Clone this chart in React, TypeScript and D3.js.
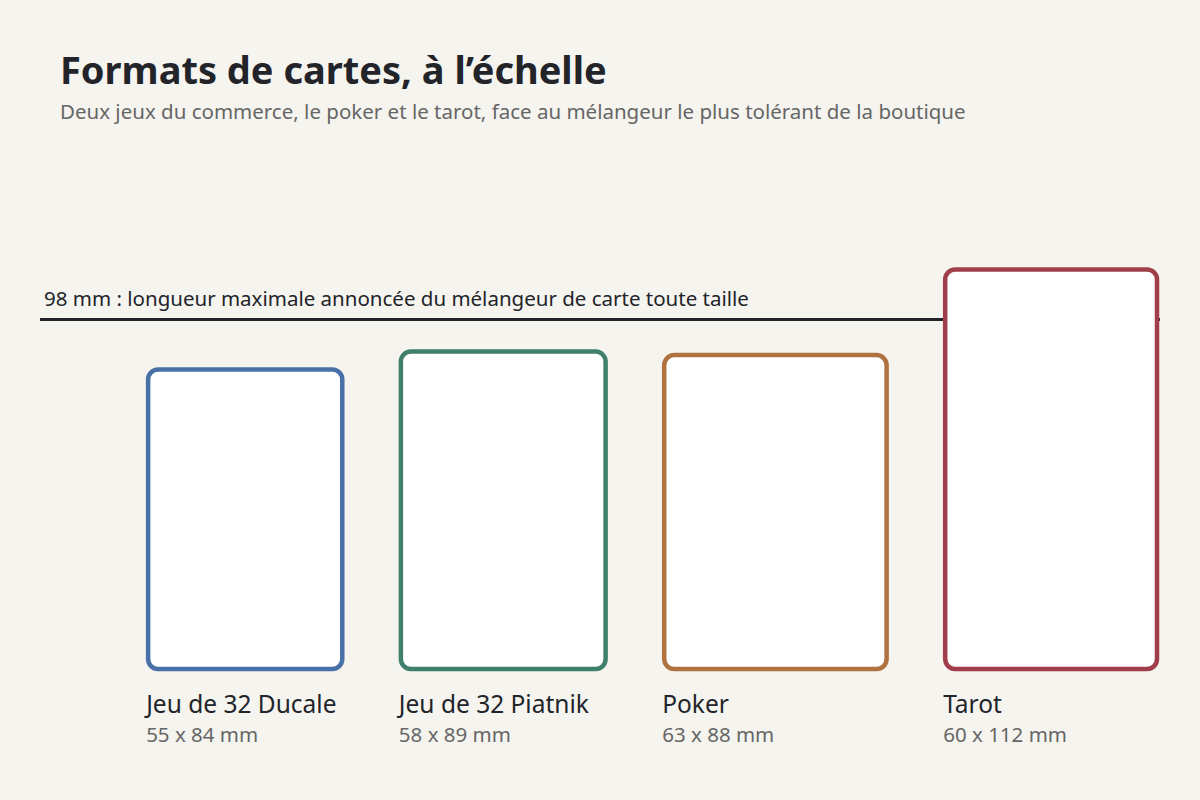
import React from "react";
import * as d3 from "d3";

const names = ["Jeu de 32 Ducale", "Jeu de 32 Piatnik", "Poker", "Tarot"];
const widthsMm = [55, 58, 63, 60];
const heightsMm = [84, 89, 88, 112];
const colors = ["#4a70a8", "#3f7f6c", "#b0733f", "#a03f4a"];
const limitMm = 98;
const limitLabel = "98 mm : longueur maximale annoncée du mélangeur de carte toute taille";
const gapMm = 16.6;

const W = 1200, H = 800;
const font = "'Segoe UI', 'Noto Sans', 'Open Sans', sans-serif";

export default function App() {
  const baseY = 669;
  const y = d3.scaleLinear().domain([0, 112]).range([baseY, 269.5]);
  const pxPerMmX = 3.53;
  const totalMm = d3.sum(widthsMm) + gapMm * (widthsMm.length - 1);
  const right = 1157;
  const x = d3.scaleLinear().domain([0, totalMm]).range([right - totalMm * pxPerMmX, right]);
  let acc = 0;
  const cards = names.map((n, i) => {
    const x0 = acc;
    acc += widthsMm[i] + gapMm;
    return { name: n, x0: x(x0), x1: x(x0 + widthsMm[i]), top: y(heightsMm[i]), w: widthsMm[i], h: heightsMm[i], color: colors[i] };
  });
  const ly = y(limitMm);
  return (
    <svg width={W} height={H} style={{ position: "absolute", left: 0, top: 0, background: "#f5f4ef" }} fontFamily={font}>
      <rect width={W} height={H} fill="#f5f4ef" />
      <text x={60} y={84} fontSize={38} fontWeight={700} fill="#22242a">Formats de cartes, à l’échelle</text>
      <text x={60} y={119} fontSize={20.5} fill="#666">Deux jeux du commerce, le poker et le tarot, face au mélangeur le plus tolérant de la boutique</text>
      <line x1={40} x2={1160} y1={ly} y2={ly} stroke="#22242a" strokeWidth={3} />
      <text x={44} y={306} fontSize={20.5} fill="#22242a">{limitLabel}</text>
      {cards.map((c) => (
        <g key={c.name}>
          <rect x={c.x0} y={c.top} width={c.x1 - c.x0} height={baseY - c.top} rx={10} ry={10} fill="#fff" stroke={c.color} strokeWidth={4.5} />
          <text x={c.x0 - 2} y={713} fontSize={24.5} fill="#22242a">{c.name}</text>
          <text x={c.x0 - 2} y={742} fontSize={20.5} fill="#666">{`${c.w} x ${c.h} mm`}</text>
        </g>
      ))}
    </svg>
  );
}
